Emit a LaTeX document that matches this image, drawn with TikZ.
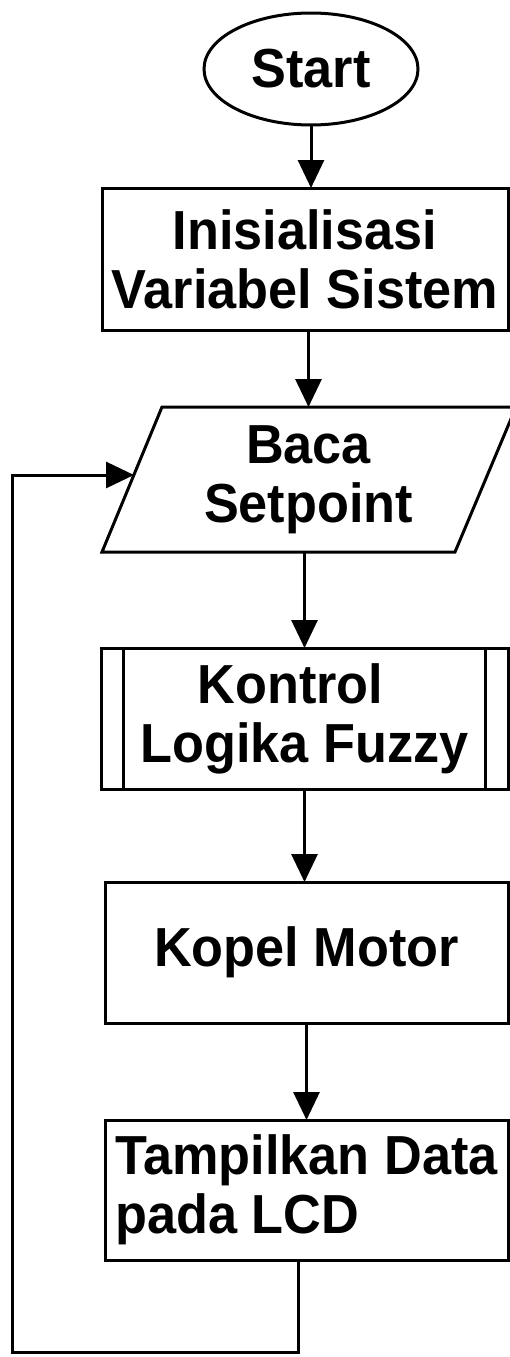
\documentclass[tikz,border=0pt]{standalone}
\usepackage{fontspec}
\setmainfont{Liberation Sans}[FakeStretch=0.95]
\usetikzlibrary{shapes.geometric,arrows.meta,calc}
\begin{document}
\begin{tikzpicture}[x=1pt,y=-1pt,
  every node/.style={font=\bfseries\fontsize{55}{59}\selectfont, inner sep=0pt, outer sep=0pt},
  proc/.style={draw, line width=3pt, rectangle, align=center},
  term/.style={draw, line width=3pt, ellipse, minimum width=214pt, minimum height=112pt},
  arr/.style={line width=3pt, -{Triangle[length=28pt,width=26pt]}},
  ln/.style={line width=3pt},
  shp/.style={line width=3pt, line join=miter}]
\useasboundingbox (0,0) rectangle (510,1357);
\fill[white] (0,0) rectangle (510,1357);

\node[term] (start) at (311,69) {Start};
\node[proc, minimum width=406pt, minimum height=142pt] (init) at (305,259) {Inisialisasi\\Variabel Sistem};
\node[align=center, minimum width=413pt, minimum height=145pt] (baca) at (308.5,479.5) {Baca\\Setpoint};
\draw[shp] (162,407) -- (516,407) -- (455,552) -- (102,552) -- cycle;
\node[proc, minimum width=407pt, minimum height=141pt] (kontrol) at (304.5,718.5) {Kontrol\hspace*{28pt}\\Logika Fuzzy};
\draw[ln] (123,648) -- (123,789);
\draw[ln] (485,648) -- (485,789);
\node[proc, minimum width=403pt, minimum height=141pt] (kopel) at (306.5,952.5) {Kopel Motor};
\node[proc, align=left, minimum width=403pt, minimum height=140pt] (tampil) at (306.5,1190) {Tampilkan Data\\pada LCD};

\coordinate (lb) at (298,1352);
\coordinate (lt) at (12,475);
\coordinate (bin) at (134,475);

\draw[arr] (start.south) -- (start.south |- init.north);
\draw[arr] (init.south -| baca.north) -- (baca.north);
\draw[arr] (baca.south -| kontrol.north) -- (kontrol.north);
\draw[arr] (kontrol.south) -- (kontrol.south |- kopel.north);
\draw[arr] (kopel.south) -- (tampil.north);
\draw[arr, line join=miter] (tampil.south -| lb) -- (lb) -- (lb -| lt) -- (lt) -- (bin);
\end{tikzpicture}
\end{document}
